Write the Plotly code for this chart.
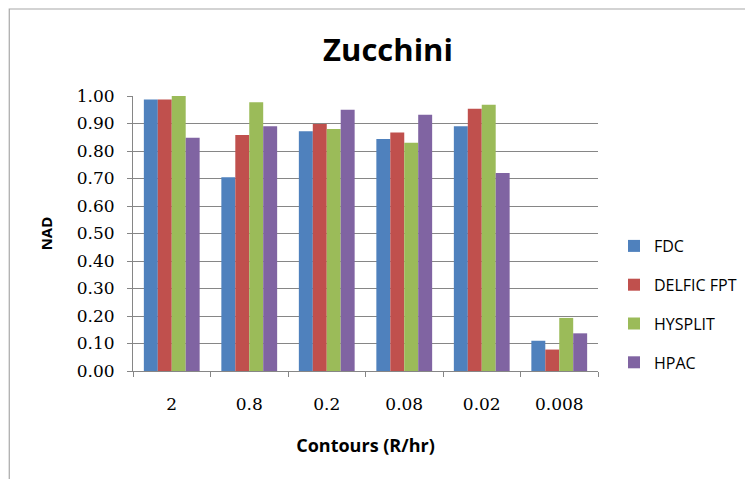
import plotly.graph_objects as go

categories = ["2", "0.8", "0.2", "0.08", "0.02", "0.008"]
fdc = [0.987, 0.705, 0.872, 0.844, 0.890, 0.110]
delfic = [0.987, 0.858, 0.898, 0.867, 0.954, 0.078]
hysplit = [1.000, 0.977, 0.880, 0.830, 0.968, 0.193]
hpac = [0.848, 0.890, 0.950, 0.932, 0.720, 0.137]
series_names = ["FDC", "DELFIC FPT", "HYSPLIT", "HPAC"]
y_ticks = [0, 0.1, 0.2, 0.3, 0.4, 0.5, 0.6, 0.7, 0.8, 0.9, 1.0]

colors = ["#4F81BD", "#C0504D", "#9BBB59", "#8064A2"]
sans = "Open Sans, Liberation Sans, sans-serif"
serif = "DejaVu Serif, Liberation Serif, serif"

fig = go.Figure()
for name, vals, col in zip(series_names, [fdc, delfic, hysplit, hpac], colors):
    fig.add_trace(go.Bar(x=categories, y=vals, name=name, marker_color=col,
                         marker_line_width=0, legendgroup=name))

# page body has an 8px margin; work in figure pixels
W, H = 745, 471
L, T = 125, 88
R = W - 591
B = H - 363
pw = W - L - R
ph = H - T - B

def px_x(p):
    return (p - L) / pw

def px_y(p):
    return (H - B - p) / ph

fig.add_shape(type="rect", xref="paper", yref="paper",
              x0=px_x(1), x1=px_x(800), y0=px_y(1), y1=px_y(520),
              line=dict(color="#a8a8a8", width=1.2), fillcolor="rgba(0,0,0,0)")

fig.update_layout(
    width=W, height=H,
    margin=dict(l=L, r=R, t=T, b=B),
    paper_bgcolor="white", plot_bgcolor="white",
    barmode="group", bargap=0.28, bargroupgap=0,
    font=dict(family=sans, size=14, color="#000"),
    title=dict(text="<b>Zucchini</b>", x=380 / W, xanchor="center",
               y=1 - 42 / H, yanchor="middle",
               font=dict(size=31, family=sans, color="#000")),
    xaxis=dict(
        type="category",
        title=dict(text="<b>Contours (R/hr)</b>", font=dict(size=18, family=sans), standoff=25),
        showline=True, linecolor="#868686", linewidth=1,
        ticks="outside", tickson="boundaries", ticklen=5, tickcolor="#868686",
        tickfont=dict(size=17, family=serif),
        ticklabelstandoff=18,
        showgrid=False,
    ),
    yaxis=dict(
        range=[0, 1.0],
        tickvals=y_ticks,
        tickformat=".2f",
        title=dict(text="<b>NAD</b>", font=dict(size=15, family=sans), standoff=20),
        showline=True, linecolor="#868686", linewidth=1,
        ticks="outside", ticklen=5, tickcolor="#868686",
        tickfont=dict(size=17, family=serif),
        ticklabelstandoff=9,
        showgrid=True, gridcolor="#868686", gridwidth=1,
        zeroline=False,
    ),
    legend=dict(x=px_x(606), xanchor="left", y=px_y(221), yanchor="top",
                font=dict(size=16, family=sans), tracegroupgap=15, itemwidth=30,
                bgcolor="rgba(0,0,0,0)"),
    showlegend=True,
)

fig.write_html("out.html")
